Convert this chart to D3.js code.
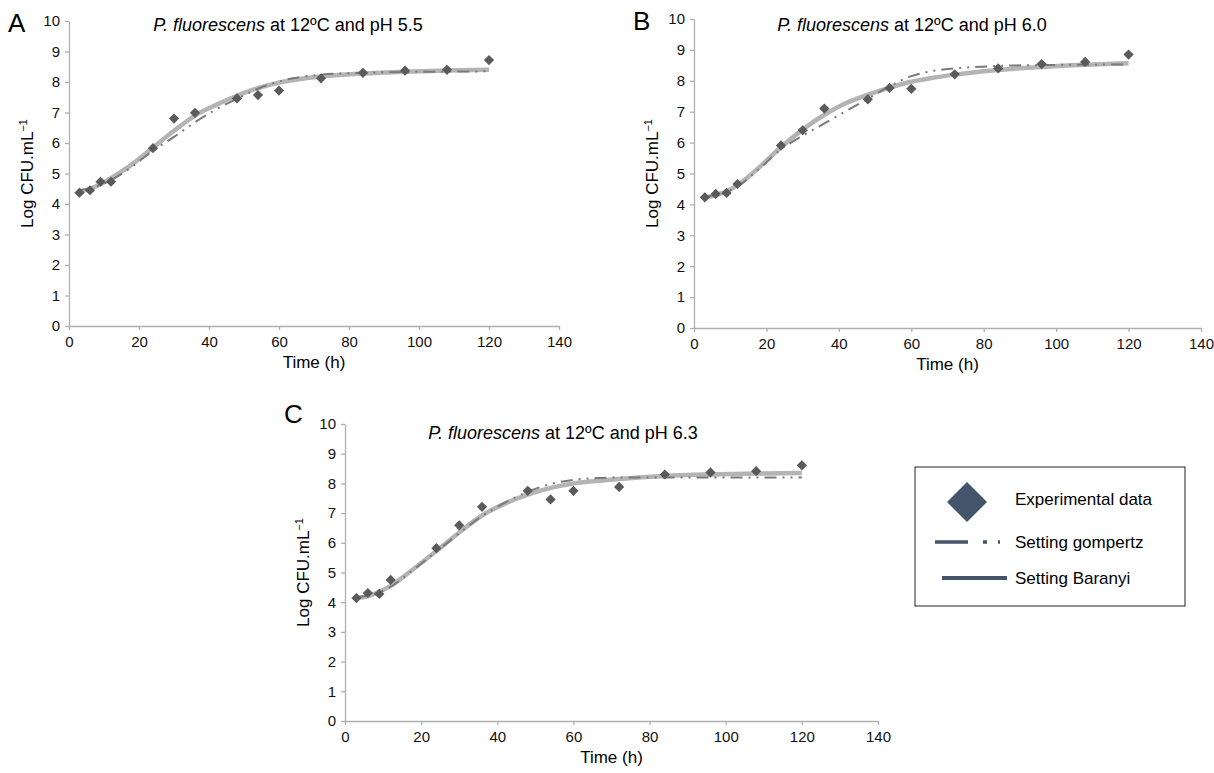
<!DOCTYPE html>
<html>
<head>
<meta charset="utf-8">
<script src="https://cdn.jsdelivr.net/npm/d3@7"></script>
<style>
  body { margin: 0; background: #fff; }
  svg { font-family: "Liberation Sans", Arial, Helvetica, sans-serif; }
  .axis path, .axis line { stroke: #b0b0b0; stroke-width: 1.3; }
  .axis text { fill: #111; font-size: 15px; }
</style>
</head>
<body>
<div id="chart"></div>
<script>
// sampling times of the experimental data (h)
const times = [3, 6, 9, 12, 24, 30, 36, 48, 54, 60, 72, 84, 96, 108, 120];
// experimental Log CFU/mL, pH 5.5 / 6.0 / 6.3
const obsA = [4.37, 4.45, 4.73, 4.73, 5.83, 6.80, 6.99, 7.46, 7.57, 7.72, 8.12, 8.30, 8.37, 8.40, 8.72];
const obsB = [4.23, 4.34, 4.37, 4.66, 5.91, 6.40, 7.10, 7.40, 7.77, 7.74, 8.21, 8.40, 8.54, 8.61, 8.85];
const obsC = [4.14, 4.31, 4.28, 4.75, 5.82, 6.59, 7.21, 7.75, 7.46, 7.75, 7.88, 8.30, 8.37, 8.41, 8.61];

// fitted curves
const fitTimes = [3, 6, 9, 12, 18, 24, 30, 36, 42, 48, 54, 60, 66, 72, 84, 96, 108, 120];
const baranyiA  = [4.40, 4.50, 4.65, 4.85, 5.30, 5.85, 6.40, 6.90, 7.25, 7.55, 7.80, 7.98, 8.10, 8.18, 8.28, 8.34, 8.38, 8.40];
const gompertzA = [4.45, 4.52, 4.62, 4.78, 5.22, 5.75, 6.20, 6.68, 7.10, 7.45, 7.78, 8.02, 8.16, 8.24, 8.30, 8.33, 8.34, 8.35];
const baranyiB  = [4.22, 4.30, 4.42, 4.62, 5.20, 5.85, 6.42, 6.90, 7.28, 7.55, 7.78, 7.97, 8.10, 8.20, 8.35, 8.45, 8.52, 8.57];
const gompertzB = [4.25, 4.30, 4.40, 4.58, 5.15, 5.78, 6.22, 6.62, 7.02, 7.42, 7.82, 8.15, 8.32, 8.40, 8.48, 8.51, 8.52, 8.53];
const baranyiC  = [4.15, 4.20, 4.35, 4.55, 5.12, 5.72, 6.35, 6.92, 7.32, 7.62, 7.85, 8.00, 8.08, 8.15, 8.25, 8.30, 8.33, 8.35];
const gompertzC = [4.18, 4.22, 4.33, 4.52, 5.10, 5.70, 6.32, 6.90, 7.35, 7.72, 7.98, 8.12, 8.18, 8.20, 8.20, 8.20, 8.20, 8.20];

const xTicks = [0, 20, 40, 60, 80, 100, 120, 140];
const yTicks = [0, 1, 2, 3, 4, 5, 6, 7, 8, 9, 10];
const panelLetters = ["A", "B", "C"];
const panelPH = ["5.5", "6.0", "6.3"];
const legendLabels = ["Experimental data", "Setting gompertz", "Setting Baranyi"];

// layout of each panel (pixel box of the plot area)
const panels = [
  { x0: 69,  x1: 559,  yTop: 21,  yBot: 326, obs: obsA, bar: baranyiA, gom: gompertzA },
  { x0: 694, x1: 1201, yTop: 19,  yBot: 328, obs: obsB, bar: baranyiB, gom: gompertzB },
  { x0: 345, x1: 878,  yTop: 424, yBot: 721, obs: obsC, bar: baranyiC, gom: gompertzC }
];

const W = 1214, H = 773;
const svg = d3.select("#chart").append("svg")
  .attr("width", W).attr("height", H);

panels.forEach(function(p, i) {
  let xScale = d3.scaleLinear().domain([0, 140]).range([p.x0, p.x1]);
  let yScale = d3.scaleLinear().domain([0, 10]).range([p.yBot, p.yTop]);

  let g = svg.append("g");

  g.append("g").attr("class", "axis")
    .attr("transform", "translate(0," + p.yBot + ")")
    .call(d3.axisBottom(xScale).tickValues(xTicks).tickSize(4).tickPadding(6).tickSizeOuter(0));

  g.append("g").attr("class", "axis")
    .attr("transform", "translate(" + p.x0 + ",0)")
    .call(d3.axisLeft(yScale).tickValues(yTicks).tickSize(4).tickPadding(5).tickSizeOuter(0));

  let line = d3.line()
    .x(function(d) { return xScale(d[0]); })
    .y(function(d) { return yScale(d[1]); })
    .curve(d3.curveMonotoneX);

  // Baranyi (solid light grey)
  g.append("path")
    .datum(fitTimes.map(function(t, k) { return [t, p.bar[k]]; }))
    .attr("d", line)
    .attr("fill", "none")
    .attr("stroke", "#b4b4b4")
    .attr("stroke-width", 4.5);

  // Gompertz (dash dot dot)
  g.append("path")
    .datum(fitTimes.map(function(t, k) { return [t, p.gom[k]]; }))
    .attr("d", line)
    .attr("fill", "none")
    .attr("stroke", "#7a7a7a")
    .attr("stroke-width", 2)
    .style("stroke-dasharray", "12,6,2,6,2,6");

  // experimental points
  g.selectAll(".pt")
    .data(times.map(function(t, k) { return [t, p.obs[k]]; }))
    .enter().append("path")
    .attr("d", d3.symbol(d3.symbolSquare, 52)())
    .attr("transform", function(d) {
      return "translate(" + xScale(d[0]) + "," + yScale(d[1]) + ") rotate(45)";
    })
    .attr("fill", "#5a5a5a");

  // panel letter
  g.append("text")
    .attr("x", p.x0 - 61)
    .attr("y", p.yTop + (i == 2 ? -1 : 11))
    .style("font-size", "26px")
    .text(panelLetters[i]);

  // title
  let title = g.append("text")
    .attr("x", (i == 0 ? 288 : (i == 1 ? 912 : 563)))
    .attr("y", (i == 2 ? 439 : 31))
    .style("text-anchor", "middle")
    .style("font-size", "18px");
  title.append("tspan").style("font-style", "italic").text("P. fluorescens");
  title.append("tspan").text(" at 12ºC and pH " + panelPH[i]);

  // x axis title
  g.append("text")
    .attr("x", (p.x0 + p.x1) / 2)
    .attr("y", p.yBot + 42)
    .style("text-anchor", "middle")
    .style("font-size", "17px")
    .text("Time (h)");

  // y axis title
  let yt = g.append("text")
    .attr("transform", "translate(" + (p.x0 - 36) + "," + ((p.yTop + p.yBot) / 2) + ") rotate(-90)")
    .style("text-anchor", "middle")
    .style("font-size", "17px");
  yt.append("tspan").text("Log CFU.mL");
  yt.append("tspan").attr("dy", "-0.55em").style("font-size", "11px").text("−1");
});

// legend
let lg = svg.append("g");
lg.append("rect")
  .attr("x", 915).attr("y", 467).attr("width", 270).attr("height", 139)
  .attr("fill", "none").attr("stroke", "#222").attr("stroke-width", 1);

lg.append("path")
  .attr("d", d3.symbol(d3.symbolSquare, 800)())
  .attr("transform", "translate(967,502) rotate(45)")
  .attr("fill", "#44546a");

lg.append("line")
  .attr("x1", 935).attr("x2", 1001).attr("y1", 542).attr("y2", 542)
  .attr("stroke", "#44546a").attr("stroke-width", 3.5)
  .style("stroke-dasharray", "33,15,4,11,2,40");

lg.append("line")
  .attr("x1", 942).attr("x2", 1007).attr("y1", 578).attr("y2", 578)
  .attr("stroke", "#44546a").attr("stroke-width", 4);

lg.selectAll(".lt")
  .data(legendLabels)
  .enter().append("text")
  .attr("x", 1015)
  .attr("y", function(d, k) { return [505, 548, 584][k]; })
  .style("font-size", "17px")
  .text(function(d) { return d; });
</script>
</body>
</html>
